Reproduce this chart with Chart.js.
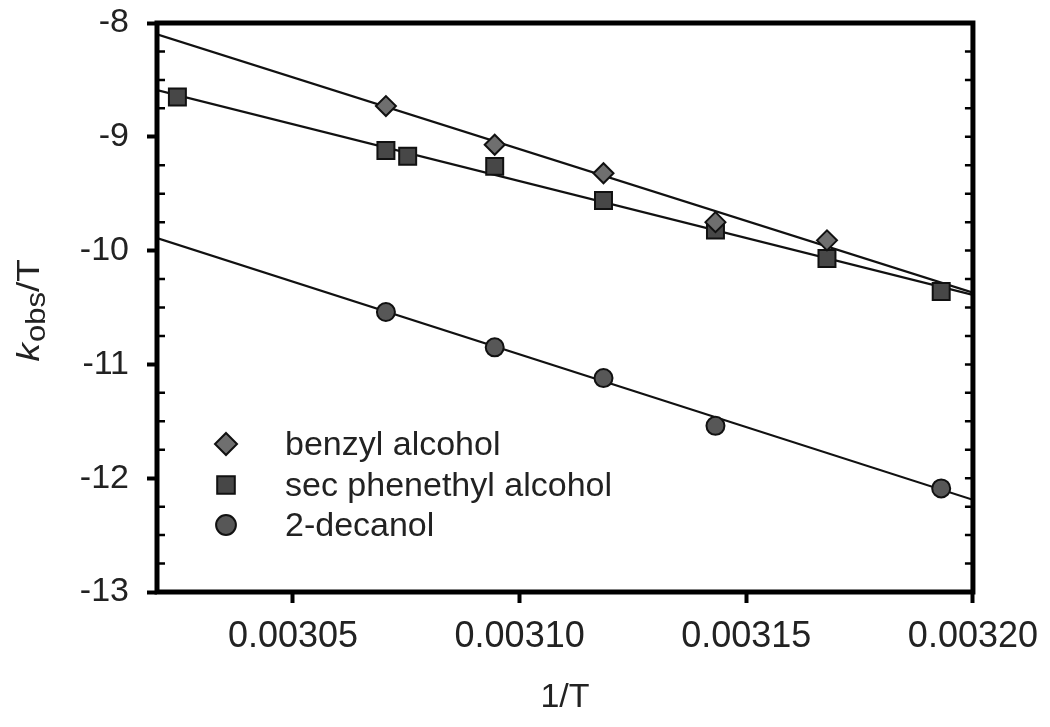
<!DOCTYPE html>
<html>
<head>
<meta charset="utf-8">
<title>kobs/T vs 1/T</title>
<script src="https://cdn.jsdelivr.net/npm/chart.js@4.4.1/dist/chart.umd.min.js"></script>
<style>
  body { margin: 0; background: #fff; }
  #wrap { width: 1050px; height: 727px; }
</style>
</head>
<body>
<div id="wrap"><canvas id="arrhenius" width="1050" height="727"></canvas></div>
<script>
// measured points (1/T, kobs/T)
const benzylX = [0.0030705, 0.0030945, 0.0031185, 0.0031432, 0.0031678];
const benzylY = [-8.73, -9.07, -9.32, -9.75, -9.91];

const phenethylX = [0.0030245, 0.0030705, 0.0030753, 0.0030945, 0.0031185, 0.0031432, 0.0031678, 0.0031930];
const phenethylY = [-8.65, -9.12, -9.17, -9.26, -9.56, -9.82, -10.07, -10.36];

const decanolX = [0.0030705, 0.0030945, 0.0031185, 0.0031432, 0.0031930];
const decanolY = [-10.54, -10.85, -11.12, -11.54, -12.09];

// fitted lines, read at the two edges of the plot
const fitX = [0.00302, 0.00320];
const benzylFit = [-8.10, -10.37];
const phenethylFit = [-8.59, -10.39];
const decanolFit = [-9.89, -12.19];

const seriesNames = ['benzyl alcohol', 'sec phenethyl alcohol', '2-decanol'];
const xTicks = [0.00305, 0.00310, 0.00315, 0.00320];
const yTicks = [-13, -12, -11, -10, -9, -8];

const FONT = '"Liberation Sans", Arial, sans-serif';

function pts(xs, ys) {
    return xs.map((x, i) => ({ x: x, y: ys[i] }));
}

const markerStyles = [
    { shape: 'diamond', fill: '#6f6f6f' },
    { shape: 'square', fill: '#474747' },
    { shape: 'circle', fill: '#575757' }
];

function drawMarker(ctx, shape, x, y, s, fill) {
    ctx.save();
    ctx.fillStyle = fill;
    ctx.strokeStyle = '#111';
    ctx.lineWidth = 2;
    ctx.beginPath();
    if (shape === 'diamond') {
        ctx.moveTo(x, y - s); ctx.lineTo(x + s, y); ctx.lineTo(x, y + s); ctx.lineTo(x - s, y); ctx.closePath();
    } else if (shape === 'square') {
        ctx.rect(x - s * 0.8, y - s * 0.8, s * 1.6, s * 1.6);
    } else {
        ctx.arc(x, y, s * 0.9, 0, Math.PI * 2);
    }
    ctx.fill();
    ctx.stroke();
    ctx.restore();
}

// frame, inner minor ticks, legend and the y title with subscript
const decorations = {
    id: 'decorations',
    afterDraw(chart) {
        const ctx = chart.ctx;
        const area = chart.chartArea;
        const yScale = chart.scales.y;

        ctx.save();
        ctx.strokeStyle = '#000';
        ctx.lineWidth = 2.5;
        ctx.beginPath();
        for (let i = 0; i < yTicks.length - 1; i++) {
            for (let q = 0; q <= 4; q++) {
                const py = yScale.getPixelForValue(yTicks[i] + q * 0.25);
                if (q > 0 && q < 4) {
                    ctx.moveTo(area.left, py); ctx.lineTo(area.left + 8, py);
                }
                ctx.moveTo(area.right, py); ctx.lineTo(area.right - 8, py);
            }
        }
        ctx.stroke();

        ctx.lineWidth = 5;
        ctx.strokeRect(area.left, area.top, area.right - area.left, area.bottom - area.top);
        ctx.restore();

        // legend inside the plot
        const rows = [444, 485, 525];
        ctx.save();
        ctx.font = '34px ' + FONT;
        ctx.fillStyle = '#222';
        ctx.textBaseline = 'middle';
        seriesNames.forEach((name, i) => {
            drawMarker(ctx, markerStyles[i].shape, 226, rows[i], 11, markerStyles[i].fill);
            ctx.fillText(name, 285, rows[i] + 2);
        });
        ctx.restore();

        // y axis title: k(obs)/T, a bit stretched along the text like the original
        ctx.save();
        ctx.translate(30, 311);
        ctx.rotate(-Math.PI / 2);
        ctx.scale(1.15, 1);
        ctx.fillStyle = '#222';
        ctx.textBaseline = 'middle';
        const kFont = 'italic 32px ' + FONT;
        const subFont = '27px ' + FONT;
        const tFont = '32px ' + FONT;
        ctx.font = kFont; const wk = ctx.measureText('k').width;
        ctx.font = subFont; const ws = ctx.measureText('obs').width;
        ctx.font = tFont; const wt = ctx.measureText('/T').width;
        let x0 = -(wk + ws + wt) / 2;
        ctx.font = kFont; ctx.fillText('k', x0, 0); x0 += wk + 1;
        ctx.font = subFont; ctx.fillText('obs', x0, 8); x0 += ws;
        ctx.font = tFont; ctx.fillText('/T', x0, 0);
        ctx.restore();
    }
};

const lineStyle = {
    type: 'line',
    showLine: true,
    borderColor: '#111',
    borderWidth: 2.2,
    pointRadius: 0,
    fill: false,
    order: 3
};

new Chart(document.getElementById('arrhenius'), {
    type: 'scatter',
    data: {
        datasets: [
            Object.assign({ label: 'benzyl fit', data: pts(fitX, benzylFit) }, lineStyle),
            Object.assign({ label: 'phenethyl fit', data: pts(fitX, phenethylFit) }, lineStyle),
            Object.assign({ label: 'decanol fit', data: pts(fitX, decanolFit) }, lineStyle),
            {
                label: seriesNames[0], data: pts(benzylX, benzylY), order: 1,
                pointStyle: 'rectRot', pointRadius: 10, backgroundColor: markerStyles[0].fill,
                borderColor: '#111', borderWidth: 2
            },
            {
                label: seriesNames[1], data: pts(phenethylX, phenethylY), order: 1,
                pointStyle: 'rect', pointRadius: 12, backgroundColor: markerStyles[1].fill,
                borderColor: '#111', borderWidth: 2
            },
            {
                label: seriesNames[2], data: pts(decanolX, decanolY), order: 1,
                pointStyle: 'circle', pointRadius: 9, backgroundColor: markerStyles[2].fill,
                borderColor: '#111', borderWidth: 2
            }
        ]
    },
    options: {
        responsive: false,
        animation: false,
        layout: { padding: { top: 23, right: 76, bottom: 0, left: 0 } },
        plugins: { legend: { display: false }, tooltip: { enabled: false } },
        scales: {
            x: {
                type: 'linear',
                min: 0.00302,
                max: 0.00320,
                afterBuildTicks: (s) => { s.ticks = xTicks.map(v => ({ value: v })); },
                afterFit: (s) => { s.height = 135; },
                ticks: {
                    callback: (v) => Number(v).toFixed(5),
                    font: { family: FONT, size: 36 },
                    color: '#222',
                    padding: 12,
                    maxRotation: 0
                },
                grid: { display: true, drawOnChartArea: false, drawTicks: true, tickLength: 11, tickWidth: 4, tickColor: '#000' },
                border: { display: false },
                title: {
                    display: true, text: '1/T', color: '#222',
                    font: { family: FONT, size: 34 },
                    padding: { top: 0, bottom: 9 }
                }
            },
            y: {
                type: 'linear',
                min: -13,
                max: -8,
                afterBuildTicks: (s) => { s.ticks = yTicks.map(v => ({ value: v })); },
                afterFit: (s) => { s.width = 157; s.paddingTop = 0; s.paddingBottom = 0; },
                ticks: {
                    font: { family: FONT, size: 34 },
                    color: '#222',
                    padding: 18
                },
                grid: { display: true, drawOnChartArea: false, drawTicks: true, tickLength: 10, tickWidth: 4, tickColor: '#000' },
                border: { display: false }
            }
        }
    },
    plugins: [decorations]
});
</script>
</body>
</html>
